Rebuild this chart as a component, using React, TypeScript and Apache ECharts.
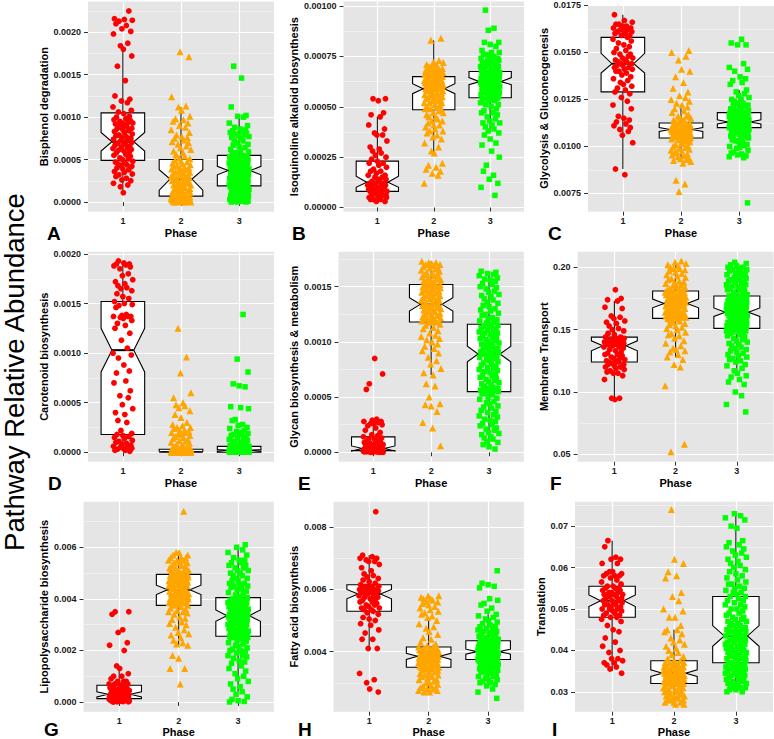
import React, { useEffect, useRef } from 'react';
import * as echarts from 'echarts';

// ---------- categories ----------
const PHASES = ['1', '2', '3'];
const Y_TITLE = 'Pathway Relative Abundance';
const X_TITLE = 'Phase';

// typed jitter offsets (category units) used to spread points horizontally
const JITTER = [0.12, -0.17, 0.03, 0.19, -0.08, -0.14, 0.07, -0.02, 0.16, -0.19, 0.10, -0.05, 0.01, 0.18, -0.11, 0.05, -0.16, 0.14, -0.03, 0.09, -0.20, 0.17, -0.09, 0.02, 0.13, -0.13, 0.06, -0.18, 0.15, -0.06, 0.11, -0.01, 0.20, -0.15, 0.04, -0.10, 0.08, -0.04, 0.18, -0.12, 0.00];

// ---------- A: Bisphenol degradation (values x1e-5) ----------
const A_P1 = [225,216,215,214,213,210,208,204,201,198,187,184,180,172,160,143,125,121,119,117,112,108,106,104,101,100,98,97,96,95,94,93,93,92,91,90,89,88,87,86,85,84,83,82,80,79,78,77,76,75,74,73,72,71,70,69,68,67,66,65,64,63,62,61,60,59,58,56,55,54,52,51,50,48,47,46,45,44,43,42,40,39,38,36,35,33,32,30,28,26,25,22,20,18,11];
const A_P2 = [177,171,124,113,112,108,101,98,97,95,93,90,88,85,82,79,77,76,75,73,71,70,68,66,64,62,60,58,56,54,52,51,49,48,47,46,45,44,43,42,41,40,40,39,38,37,36,35,35,34,33,32,31,30,30,29,28,28,27,26,25,25,24,23,22,21,20,20,19,18,17,16,16,15,14,13,12,12,11,10,9,9,8,8,7,7,6,6,6,5,5,5,4,4,4,4,3,3,3,2,2,2,2,1,1,1,1,0,0,0,0,0,1,3,5];
const A_P3 = [160,146,112,102,101,100,93,90,88,86,85,84,83,82,81,80,79,78,77,76,75,73,72,70,68,67,65,64,62,61,59,58,56,55,54,54,53,52,52,51,50,50,49,48,48,47,46,46,45,44,44,43,43,42,41,41,40,40,39,39,38,38,37,37,36,36,35,34,34,33,32,32,31,30,30,29,28,28,27,26,26,25,24,24,23,22,22,21,21,20,20,19,19,18,18,18,17,17,16,15,15,14,13,13,12,11,11,10,9,9,8,7,7,6,5,5,4,4,3,3,2,2,1,1,1,0,0,0];
// [lower whisker, Q1, median, Q3, upper whisker, notch low, notch high]
const A_BOX = [[11,49,71,105,183,60,82],[0,7,27,50,112,14,38],[0,19,37,55,102,32,42]];
const A_TICKS = [0, 0.0005, 0.001, 0.0015, 0.002];
const A_MINOR = [0.00025, 0.00075, 0.00125, 0.00175, 0.00225];

// ---------- B: Isoquinoline alkaloid biosynthesis (x1e-5) ----------
const B_P1 = [54,54,53,47,46,45,41,39,37,36,36,33,30,29,28,27,26,25,24,23,22,22,21,20,19,18,18,17,16,16,15,15,14,14,13,13,12,12,12,11,11,11,11,10,10,10,10,9,9,9,9,8,8,8,8,7,7,7,6,6,6,6,5,5,5,4,4,4,3,3];
const B_P2 = [84,83,73,72,72,71,71,70,70,70,69,69,69,68,68,68,67,67,67,67,66,66,66,66,65,65,65,65,65,64,64,64,64,63,63,63,63,62,62,62,62,62,61,61,61,61,61,60,60,60,60,60,60,59,59,59,59,58,58,58,57,57,57,56,56,56,55,55,55,54,54,54,53,53,52,52,52,51,51,50,50,49,49,49,48,47,47,46,45,45,44,43,43,42,41,41,40,39,38,38,37,36,35,34,32,30,28,27,22,21,20,19,18,17,16,12];
const B_P3 = [98,89,88,82,82,81,80,78,77,77,76,76,75,75,74,74,74,73,73,73,72,72,72,71,71,71,70,70,70,69,69,69,68,68,68,67,67,67,67,67,66,66,66,66,66,66,65,65,65,65,65,65,65,64,64,64,64,64,64,64,63,63,63,63,63,63,63,62,62,62,62,62,62,61,61,61,61,61,60,60,60,60,59,59,59,59,58,58,58,58,57,57,57,57,56,56,56,56,55,55,55,55,54,54,54,54,53,53,52,51,51,50,49,48,47,47,46,45,44,43,42,42,41,40,39,38,37,36,34,32,31,28,25,21,18,16,14,12,10,6];
const B_BOX = [[3,8,12.5,23,45,10,15.5],[27,48.5,59,65,83,56.5,61.5],[37,54.5,62.5,67.5,78,61,64.5]];
const B_TICKS = [0, 0.00025, 0.0005, 0.00075, 0.001];
const B_MINOR = [0.000125, 0.000375, 0.000625, 0.000875];

// ---------- C: Glycolysis & Gluconeogenesis (x1e-4) ----------
const C_P1 = [170,167,166,165,165,164,164,163,163,162,162,162,161,161,160,160,159,159,158,157,156,155,154,153,152,151,150,149,149,148,147,147,146,146,145,145,144,144,143,143,142,142,141,141,140,140,139,138,137,136,135,134,133,132,131,130,129,128,126,124,122,120,116,115,114,113,112,111,110,109,108,106,102,88,85];
const C_P2 = [151,150,148,146,141,140,137,134,131,129,127,126,125,124,123,122,121,120,119,118,117,116,116,115,115,114,114,113,113,112.5,112,112,111.5,112,111,111.5,111,110.5,111,111,110,110.5,110,109.5,110,110,110,109,109.5,109,108.5,109,109,109,109,108,108.5,108,107.5,108,108,108,107,107.5,107,106.5,107,107,106,106.5,106,105.5,106,106,105,105.5,105,104.5,105,105,104,104.5,104,104,103,103.5,102,102.5,101,101.5,100,100.5,99,99.5,98,98.5,97,97.5,96,96.5,95,95.5,94,94.5,93,93.5,92,92.5,91,82,80,76];
const C_P3 = [157,155,154,154,144,142,141,140,137,136,135,134,133,130,129,128,127,126,125,125,124,123,123,122,122,121,121,120,120,119,119,119,118,118.5,118,117.5,117,117.5,117,116.5,117,116,116.5,116,115.5,116,116,115,115.5,115,114.5,115,115,114,114.5,114,113.5,114,114,113,113.5,113,112.5,113,113,112,112.5,112,111.5,112,112,112,111.5,112,111,111.5,111,110.5,111,111,111.5,111,110.5,111,111,110,110.5,110,109.5,110,110,110.5,110,109.5,110,110,110,109,109.5,109,108,108.5,108,107,107.5,107,106,106.5,105,105.5,104,104.5,103,103.5,102,102.5,101,100,100.5,99,99.5,98,97,96,96.5,95,95.5,94,94.5,70];
const C_BOX = [[88,129,144,158,170,139,149.5],[93,104.5,109,112.5,122,108,110],[98,110,113,118,130,112,114.2]];
const C_TICKS = [0.0075, 0.01, 0.0125, 0.015, 0.0175];
const C_MINOR = [0.00875, 0.01125, 0.01375, 0.01625];

// ---------- D: Carotenoid biosynthesis (x1e-5) ----------
const D_P1 = [193,191,190,190,189,188,187,185,180,178,174,172,170,168,166,165,163,160,157,155,152,150,149,148,146,139,138,137,137,137,136,135,133,130,128,125,120,113,105,100,98,95,88,82,80,72,70,62,57,55,48,44,40,38,32,30,22,19,18,17,16,15,14,12,11,10,9,8,7,6,5,5,4,4,3,2,2,1];
const D_P2 = [125,96,80,60,55,50,48,47,45,42,38,35,30,28,27,25,25,24,22,22,21,20,20,19,18,17,16,15,14,13,12,11,10,9,8,7,6,5,5,4,4,3,3,3,3,3,3,3,3,2,2,2,2,2,2,2,2,2,2,1,1,1,1,1,1,1,1,1,1,1,1,0.5,0.5,0.5,0.5,0.5,0.5,0.5,0.5,0.5,0.5,0,0,0,0,0,0,0,0,0,0,0,0,0,0,0,0,0,0,0,0,0,0,0,0,0,0,0,0,0,0];
const D_P3 = [139,94,81,69,67,66,46,45,44,33,32,28,27,25,24,22,21,20,19,18,18,17,16,15,14,13,12,11,10,9,8,7,7,6,6,6,6,6,5,5,5,5,5,5,4,4,4,4,4,4,4,3,3,3,3,3,3,3,3,2.5,2.5,2.5,2.5,2.5,2,2,2,2,2,2,2,2,2,2,2,2,1.5,1.5,1.5,1.5,1.5,1.5,1.5,1.5,1.5,1.5,1,1,1,1,1,1,1,1,1,1,1,1,0.5,0.5,0.5,0.5,0.5,0.5,0.5,0.5,0.5,0.5,0.5,0.5,0,0,0,0,0,0,0,0,0,0,0,0,0,0,0,0];
const D_BOX = [[1,18,103,152,193,81,125],[0,0,0.5,3,7,0,1],[0,0,2,6,15,1.2,2.8]];
const D_TICKS = [0, 0.0005, 0.001, 0.0015, 0.002];
const D_MINOR = [0.00025, 0.00075, 0.00125, 0.00175];

// ---------- E: Glycan biosynthesis & metabolism (x1e-5) ----------
const E_P1 = [85,71,62,57,30,29,28,28,27,26,26,25,24,22,20,18,16,15,14,13,12,12,11,10,10,9,9,8,8,7,7,6,6,5,5,4,4,4,4,4,3.5,3.5,3.5,3,3,3,3,3,2.5,2.5,2.5,2,2,2,2,2,1.5,1.5,1.5,1,1,1,1,0.5,0.5,0.5,0.5,0,0,0,0,0];
const E_P2 = [173,172,172,171,170,170,169,168,167,167,166,165,164,163,162,162,161,160,159,158,158,157,156,156,155,154,154,153,152,152,151,151,150,150,149,149,148,147,147,146,146,145,144,144,143,142,142,141,140,140,139,138,138,137,136,136,135,134,134,133,133,132,131,131,130,129,129,128,127,127,126,125,125,124,123,123,122,121,121,120,120,119,119,118,118,118,116,115,113,112,110,108,106,105,103,102,100,98,96,94,92,90,86,83,80,76,72,70,62,60,50,44,43,42,37,27,22,6];
const E_P3 = [164,163,162,161,160,158,157,156,155,153,152,150,149,148,146,145,143,142,141,139,138,136,135,133,132,130,129,128,126,125,124,122,121,120,119,118,117,116,115,114,114,113,112,111,110,109,108,108,107,106,105,104,103,103,102,101,100,99,98,98,97,96,95,94,93,93,92,91,90,90,89,89,88,88,87,86,85,84,83,82,81,80,79,78,77,76,75,74,73,72,71,70,69,68,67,66,65,64,63,62,61,60,59,58,58,57,57,56,56,55,55,54,53,52,50,49,48,46,45,44,42,41,40,38,37,36,34,33,32,30,29,28,26,25,24,22,21,20,18,17,16,14,13,12,10,9,7,5,3];
const E_BOX = [[0,1.5,3.5,14,30,1.2,5.8],[70,118,134,152,173,128,140],[3,55,89,116,164,82,96]];
const E_TICKS = [0, 0.0005, 0.001, 0.0015];
const E_MINOR = [0.00025, 0.00075, 0.00125, 0.00175];

// ---------- F: Membrane Transport (x1e-3) ----------
const F_P1 = [182,175,174,173,168,167,161,160,159,157,156,155,153,151,150,149,147,146,144,144,143,143,142,142,141,141,141,140,140,139,139,139,138,138,138,137,137,136,136,135,134,133,132,131,130,130,129,128,127,127,126,125,125,124,124,123,122,122,121,120,120,119,118,117,116,115,115,113,110,95,95,94];
const F_P2 = [205,204,203,202,201,200,199,199,198,197,196,195,194,193,192,191,190,189,188,188,187,186,185,185,184,183,183,182,182,181,181,180,180,180,179,179,178,178,178,177,177,176,176,176,175,175,175,174,174,174,173,173,173,172,172,172,171,171,171,170,170,169,169,168,168,167,167,166,166,165,165,164,164,163,163,163,162,162,162,161,161,161,160,160,160,159,159,158,157,156,155,154,153,152,151,150,148,147,146,145,143,141,139,137,135,134,133,132,130,128,126,122,120,105,58,52];
const F_P3 = [204,203,202,201,200,200,199,198,198,197,196,195,195,194,193,192,192,191,190,190,189,188,188,187,186,186,185,184,184,183,182,182,181,180,179,178,178,177,177,176,176,175,175,175,174,174,173,173,172,172,172,171,171,170,170,170,169,169,168,168,168,167,167,166,166,166,165,165,165,164,164,164,163,163,163,162,162,161,161,160,160,159,159,158,158,157,157,156,156,155,155,155,154,154,153,153,153,152,152,152,151,151,151,150,150,150,149,149,148,148,147,147,146,145,144,143,142,141,140,139,138,137,136,135,134,133,132,131,130,129,128,127,126,125,124,122,121,119,117,115,113,112,110,108,106,100,97,90,84];
const F_BOX = [[94,124,137,144,173,133,141],[128,159,171,181,204,167.5,174.5],[115,151,164,177,204,160.6,167.4]];
const F_TICKS = [0.05, 0.1, 0.15, 0.2];
const F_MINOR = [0.075, 0.125, 0.175];

// ---------- G: Lipopolysaccharide biosynthesis (x1e-4) ----------
const G_P1 = [35,35,34,28,27,23,22,20,14,13,11,10,10,9,8,8,8,7,7,7,6.5,6,6,6,5.5,5.5,5,5,5,4.5,4.5,4,4,4,3.5,3.5,3.5,3,3,3,3,2.8,2.6,2.5,2.4,2.3,2.2,2,2,1.9,1.8,1.7,1.6,1.5,1.5,1.4,1.3,1.3,1.2,1.2,1.1,1,1,0.9,0.8,0.8,0.7,0.6,0.6,0.5,0.4,0.4,0.3,0.2,0.2,0.1,0.1,0];
const G_P2 = [74,58,58,57,57,56,56,56,55,55,55,54,54,54,53,53,53,52,52,52,51,51,51,51,50,50,50,50,49.5,49,49,49,49,48.5,48.5,48,48,48,47.5,47.5,47,47,47,46.5,46.5,46,46,46,45.5,45.5,45,45,45,44.5,44.5,44,44,43.5,43,43,43,42.5,42.5,42,42,42,41.5,41.5,41,41,41,40.5,40.5,40,40,40,39.5,39.5,39,39,39,38.5,38.5,38,38,37.5,37.5,37,36.5,36,35.5,35,35,34.5,34,33,32.5,32,31,30.5,30,29,28,27,26.5,26,25,24,23,22.5,22,18,17,13,13,7];
const G_P3 = [61,60,59,58,57,56,55,55,54,54,53,53,52,52,51,51,50,50,49,49,48,48,47,47,46,46,45.5,45,45,44.5,44,43.5,43,42.5,42,41.5,41,40.5,40,40,39.5,39.5,39,39,38.5,38.5,38,38,38,37.5,37.5,37,37,37,36.5,36.5,36,36,36,35.5,35.5,35,35,35,34.5,34.5,34,34,34,33.5,33.5,33.5,33,33,33,32.5,32.5,32,32,31.5,31.5,31,31,30.5,30.5,30,30,30,29.5,29.5,29,29,28.5,28.5,28,28,28,27.5,27.5,27,27,26.5,26.5,26,26,26,25.5,25.5,25.5,25,25,25,24.5,24,23.5,23,22.5,22,21.5,21,20.5,20,20,19.5,19,18,18,17.5,17,16,15.5,15,14,13,12,11,10,9,8,7,6,5,4,3,2,1,0.5,0.2,0];
const G_BOX = [[0,1.3,3,6.5,13,2,4],[22,37.5,43.5,49.5,58,41.7,45.3],[4,25.5,33.5,40.5,61,31.3,35.7]];
const G_TICKS = [0, 0.002, 0.004, 0.006];
const G_MINOR = [0.001, 0.003, 0.005, 0.007];

// ---------- H: Fatty acid biosynthesis (x1e-4) ----------
const H_P1 = [85,71,70.5,70,70,69.5,69,69,68,67,66,65,64.5,64,63.5,63,62.5,62,61.5,61,61,61,60.5,60.5,60.5,60,60,60,59.5,59.5,59.5,59,59,59,58.5,58.5,58,58,57.5,57.5,57,57,56.5,56,56,55.5,55,55,54.5,54,54,53.5,53.5,53,52.5,52,51,50.5,50,49,48.5,47,46,44,44,41,41,33,31,30,28,27];
const H_P2 = [58,58,57.5,57,57,56.5,56,56,55.5,55,54.5,54,53.5,53,52.5,52,51.5,51,50,49,48,47.5,46.5,45.5,44.5,44,43,42.5,42,41.5,41.5,41,41,41,41,40.5,40.5,40.5,40.5,40,40,40,40,39.5,39.5,39.5,39.5,39.5,39,39,39,39,39,38.5,38.5,38.5,38.5,38.5,38,38,38,38,37.5,37.5,37.5,37.5,37,37,37,37,36.5,36.5,36.5,36.5,36,36,36,36,35.5,35.5,35.5,35.5,35,35,35,35,35,34.5,34.5,34,34,33.5,33.5,33,33,32.5,32.5,32,32,31.5,31,31,30.5,30,30,29.5,29,29,28.5,28.5,28,28,27.5,27.5,27,27];
const H_P3 = [66,62,61.5,61,60.5,57,56.5,55.5,55,54,53,52,51.5,51,50.5,50,49.5,49,48.5,48,48,47.5,47,47,46.5,46.5,46,46,45.5,45.5,45,45,44.5,44.5,44,44,43.5,43.5,43.5,43,43,43,43,42.5,42.5,42.5,42.5,42.5,42,42,42,42,42,41.5,41.5,41.5,41.5,41.5,41,41,41,41,41,41,40.5,40.5,40.5,40.5,40.5,40.5,40,40,40,40,40,40,39.5,39.5,39.5,39.5,39.5,39.5,39,39,39,39,39,39,39,38.5,38.5,38.5,38.5,38.5,38.5,38.5,38,38,38,38,38,38,38,37.5,37.5,37.5,37.5,37.5,37.5,37.5,37.5,37,37,37,36.5,36.5,36.5,36,36,36,35.5,35.5,35.5,35,35,35,34.5,34.5,34,34,33.5,33.5,33,33,32.5,32,32,31.5,31,31,30.5,30,30,29.5,29,28,27,25];
const H_BOX = [[41,53,58.5,61.5,71,57,60],[27,35,38.5,41.5,51,37.5,39.5],[29,37.5,40,43.5,52,39.2,40.8]];
const H_TICKS = [0.004, 0.006, 0.008];
const H_MINOR = [0.003, 0.005, 0.007];

// ---------- I: Translation (x1e-3) ----------
const I_P1 = [66.5,65,62.5,62,62,61,61,59,59,58.5,58.5,58,58,58,57.5,57,56.5,56,55.5,55.5,55,55,55,54.5,54.5,54,54,54,53.5,53.5,53.5,53,53,53,52.5,52.5,52,52,52,51.5,51.5,51,51,51,50.5,50.5,50,50,50,49.5,49.5,49,49,48.5,48.5,48,48,47.5,47,46,45,44.5,43,42,41,40,39.5,38,38,37.5,37,37,36.5,36,35.5,34.5];
const I_P2 = [74,62,61,59,58,57.5,54,53,52,50,49.5,48,48,46,45,45,44.5,44,43,42.5,42,41.5,41,40.5,40,39.5,39,38.5,38,37.5,37.5,37,37,37,37,36.5,36.5,36.5,36.5,36,36,36,36,36,35.5,35.5,35.5,35.5,35.5,35,35,35,35,35,34.5,34.5,34.5,34.5,34,34,34,34,34,34,33.5,33.5,33.5,33.5,33.5,33,33,33,33,33,33,32.5,32.5,32.5,32.5,32.5,32.5,32,32,32,32,32,32,31.5,31.5,31.5,31,31,31,30.5,30.5,30.5,30,30,30,29.5,29.5,29.5,29,29,29,28.5,28.5,28.5,28,28,28,27.5,27.5,27.5,27,27];
const I_P3 = [73,72.5,72,71.5,70,69.5,66.5,66,65.5,65,64.5,64,63.5,63,62.5,62,61.5,61,60.5,60,59.5,59,58.5,58,57.5,57,56.5,56,56,55.5,55,55,54.5,54,54,53.5,53,53,52.5,52,52,51.5,51,51,50.5,50,50,49.5,49,49,48.5,48,48,47.5,47.5,47,47,46.5,46.5,46,46,45.5,45.5,45,45,45,44.5,44.5,44.5,44,44,44,43.5,43.5,43,43,43,42.5,42.5,42.5,42,42,42,41.5,41.5,41.5,41,41,41,40.5,40.5,40.5,40,40,40,39.5,39.5,39.5,39,39,39,38.5,38.5,38.5,38,38,38,37.5,37.5,37,37,36.5,36.5,36.5,36,36,36,35.5,35.5,35.5,35,35,35,34.5,34.5,34.5,34,34,34,33.5,33.5,33,33,33,32.5,32.5,32,32,32,31.5,31.5,31,31,31,30.5,30.5,30,30];
const I_BOX = [[35,48,52,55.5,66.5,50.6,53.4],[27,32,34.5,37.5,45,33.7,35.3],[30,37,43.5,53,73,41,46]];
const I_TICKS = [0.03, 0.04, 0.05, 0.06, 0.07];
const I_MINOR = [0.035, 0.045, 0.055, 0.065, 0.075];

const PANELS = [
  { letter: 'A', title: 'Bisphenol degradation', unit: 1e-5, groups: [A_P1, A_P2, A_P3], boxes: A_BOX, ticks: A_TICKS, minor: A_MINOR, dec: 4, range: [-0.000114, 0.002362] },
  { letter: 'B', title: 'Isoquinoline alkaloid biosynthesis', unit: 1e-5, groups: [B_P1, B_P2, B_P3], boxes: B_BOX, ticks: B_TICKS, minor: B_MINOR, dec: 5, range: [-0.000021, 0.001023] },
  { letter: 'C', title: 'Glycolysis & Gluconeogenesis', unit: 1e-4, groups: [C_P1, C_P2, C_P3], boxes: C_BOX, ticks: C_TICKS, minor: C_MINOR, dec: 4, range: [0.00653, 0.01752] },
  { letter: 'D', title: 'Carotenoid biosynthesis', unit: 1e-5, groups: [D_P1, D_P2, D_P3], boxes: D_BOX, ticks: D_TICKS, minor: D_MINOR, dec: 4, range: [-0.000095, 0.002023] },
  { letter: 'E', title: 'Glycan biosynthesis & metabolism', unit: 1e-5, groups: [E_P1, E_P2, E_P3], boxes: E_BOX, ticks: E_TICKS, minor: E_MINOR, dec: 4, range: [-0.000085, 0.001817] },
  { letter: 'F', title: 'Membrane Transport', unit: 1e-3, groups: [F_P1, F_P2, F_P3], boxes: F_BOX, ticks: F_TICKS, minor: F_MINOR, dec: 2, range: [0.0441, 0.2125] },
  { letter: 'G', title: 'Lipopolysaccharide biosynthesis', unit: 1e-4, groups: [G_P1, G_P2, G_P3], boxes: G_BOX, ticks: G_TICKS, minor: G_MINOR, dec: 3, range: [-0.000376, 0.00777] },
  { letter: 'H', title: 'Fatty acid biosynthesis', unit: 1e-4, groups: [H_P1, H_P2, H_P3], boxes: H_BOX, ticks: H_TICKS, minor: H_MINOR, dec: 3, range: [0.00207, 0.00882] },
  { letter: 'I', title: 'Translation', unit: 1e-3, groups: [I_P1, I_P2, I_P3], boxes: I_BOX, ticks: I_TICKS, minor: I_MINOR, dec: 2, range: [0.0252, 0.0759] },
];

// ---------- layout & style ----------
const LAYOUT = [
  { left: 88, top: 1.5, width: 186, height: 210.2, yGap: 38.5, xGap: 16, lx: 47, ly: 233.5 },
  { left: 343.5, top: 1.5, width: 180.5, height: 210.2, yGap: 44, xGap: 16, lx: 292, ly: 233.5 },
  { left: 588, top: 5, width: 186, height: 206.7, yGap: 38.5, xGap: 16, lx: 548, ly: 233.5 },
  { left: 88, top: 251.7, width: 186, height: 210, yGap: 38.5, xGap: 16, lx: 48, ly: 483.5 },
  { left: 338.5, top: 251.7, width: 185.3, height: 210, yGap: 39, xGap: 16, lx: 298, ly: 483.5 },
  { left: 577.6, top: 251.7, width: 196, height: 210, yGap: 28, xGap: 16, lx: 550, ly: 483.5 },
  { left: 83.5, top: 501.7, width: 190.3, height: 210, yGap: 34, xGap: 13.5, lx: 44, ly: 729 },
  { left: 333.5, top: 501.7, width: 190.3, height: 210, yGap: 34, xGap: 13.5, lx: 298, ly: 729 },
  { left: 575, top: 501.7, width: 198, height: 210, yGap: 27, xGap: 13.5, lx: 552, ly: 729 },
];
const FONT = 'Liberation Sans, Arial, Helvetica, sans-serif';
const BG = '#E5E5E5';
const COLORS = ['#FF0000', '#FFA500', '#00FF00'];
const SYMBOLS = ['circle', 'triangle', 'rect'];
const SIZES = [5.8, 7, 5.5];
const JITTER_SCALE = 0.85;
const BOX_WIDTH = 0.75;
const NOTCH_INDENT = 0.5;

function renderBox(params: any, api: any) {
  const x = api.value(0);
  const c = (i: number) => api.coord([x, api.value(i)]);
  const cx = c(3)[0];
  const half = api.size([BOX_WIDTH, 0])[0] / 2;
  const ind = half * NOTCH_INDENT;
  const yLW = c(1)[1], yQ1 = c(2)[1], yMed = c(3)[1], yQ3 = c(4)[1], yHW = c(5)[1], yNL = c(6)[1], yNH = c(7)[1];
  const xl = cx - half, xr = cx + half;
  const line = { stroke: '#000', lineWidth: 1 };
  return {
    type: 'group',
    children: [
      { type: 'line', shape: { x1: cx, y1: yQ3, x2: cx, y2: yHW }, style: line },
      { type: 'line', shape: { x1: cx, y1: yQ1, x2: cx, y2: yLW }, style: line },
      {
        type: 'polygon',
        shape: { points: [[xl, yQ1], [xl, yNL], [xl + ind, yMed], [xl, yNH], [xl, yQ3], [xr, yQ3], [xr, yNH], [xr - ind, yMed], [xr, yNL], [xr, yQ1]] },
        style: { fill: '#fff', stroke: '#000', lineWidth: 1.1 },
      },
      { type: 'line', shape: { x1: xl + ind, y1: yMed, x2: xr - ind, y2: yMed }, style: { stroke: '#000', lineWidth: 2 } },
    ],
  };
}

function buildOption() {
  const grid: any[] = [];
  const xAxis: any[] = [];
  const yAxis: any[] = [];
  const series: any[] = [];
  const graphic: any[] = [];
  const xVals = PHASES.map((_, i) => i + 1);

  PANELS.forEach((p, k) => {
    const L = LAYOUT[k];
    grid.push({
      left: L.left, top: L.top, width: L.width, height: L.height,
      show: true, backgroundColor: BG, borderWidth: 0, containLabel: false, outerBoundsMode: 'none',
    });
    xAxis.push({
      gridIndex: k, type: 'value', min: 0.4, max: 3.6,
      name: X_TITLE, nameLocation: 'middle', nameGap: L.xGap,
      nameTextStyle: { fontFamily: FONT, fontSize: 11, fontWeight: 'bold', color: '#000' },
      axisLine: { show: false },
      axisTick: { show: true, length: 4, customValues: xVals, lineStyle: { color: '#333', width: 1 } },
      axisLabel: {
        show: true, customValues: xVals, margin: 5,
        formatter: (v: number) => PHASES[Math.round(v) - 1] ?? '',
        fontFamily: FONT, fontSize: 9, fontWeight: 'bold', color: '#1a1a1a',
      },
      splitLine: { show: true, customValues: xVals, lineStyle: { color: '#ffffff', width: 1.2 } },
    });
    yAxis.push({
      gridIndex: k, type: 'value', min: p.range[0], max: p.range[1], position: 'left',
      name: p.title, nameLocation: 'middle', nameRotate: 90, nameGap: L.yGap,
      nameTextStyle: { fontFamily: FONT, fontSize: 11, fontWeight: 'bold', color: '#000' },
      axisLine: { show: false },
      axisTick: { show: true, length: 4, customValues: p.ticks, lineStyle: { color: '#333', width: 1 } },
      axisLabel: {
        show: true, customValues: p.ticks, margin: 7,
        formatter: (v: number) => v.toFixed(p.dec),
        fontFamily: FONT, fontSize: 9, fontWeight: 'bold', color: '#1a1a1a',
      },
      splitLine: { show: true, customValues: p.ticks, lineStyle: { color: '#ffffff', width: 1.2 } },
    });
    yAxis.push({
      gridIndex: k, type: 'value', min: p.range[0], max: p.range[1], position: 'left',
      axisLine: { show: false },
      axisTick: { show: false, customValues: p.minor },
      axisLabel: { show: false, customValues: p.minor },
      splitLine: { show: true, customValues: p.minor, lineStyle: { color: '#F3F3F3', width: 0.7 } },
    });
    const yi = 2 * k;
    series.push({
      type: 'custom', xAxisIndex: k, yAxisIndex: yi, renderItem: renderBox, silent: true, z: 2,
      encode: { x: 0, y: [1, 2, 3, 4, 5] },
      data: p.boxes.map((b, i) => [i + 1, ...b.map((v) => v * p.unit)]),
    });
    p.groups.forEach((vals, g) => {
      const off = (k * 3 + g) * 7;
      series.push({
        type: 'scatter', xAxisIndex: k, yAxisIndex: yi, silent: true, z: 3,
        symbol: SYMBOLS[g], symbolSize: SIZES[g], progressive: 0, large: false,
        itemStyle: { color: COLORS[g], opacity: 1 },
        data: vals.map((v, i) => [g + 1 + JITTER[(i + off) % JITTER.length] * JITTER_SCALE, v * p.unit]),
      });
    });
    graphic.push({
      type: 'text', x: L.lx, y: L.ly, silent: true,
      style: { text: p.letter, fontFamily: FONT, fontSize: 19, fontWeight: 'bold', fill: '#000', align: 'left', verticalAlign: 'middle' },
    });
  });

  graphic.push({
    type: 'text', x: 14, y: 372, rotation: Math.PI / 2, silent: true,
    style: { text: Y_TITLE, fontFamily: FONT, fontSize: 27.5, fontWeight: 'normal', fill: '#000', align: 'center', verticalAlign: 'middle' },
  });

  return { animation: false, backgroundColor: '#ffffff', grid, xAxis, yAxis, series, graphic };
}

export default function App() {
  const ref = useRef<HTMLDivElement>(null);
  useEffect(() => {
    if (!ref.current) return;
    const chart = echarts.init(ref.current, undefined, { renderer: 'svg' });
    chart.setOption(buildOption() as any);
    return () => chart.dispose();
  }, []);
  return <div ref={ref} style={{ position: 'fixed', left: 0, top: 0, width: 774, height: 739, background: '#fff' }} />;
}
